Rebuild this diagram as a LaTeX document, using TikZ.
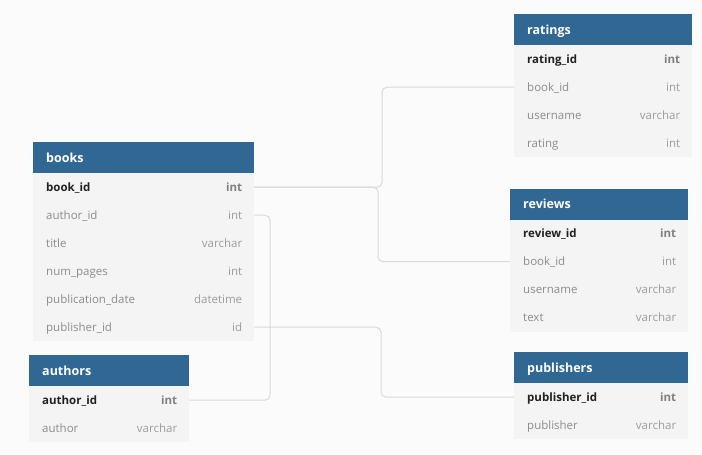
\documentclass[tikz,border=0pt]{standalone}
\usepackage{fontspec}
\setmainfont{Open Sans}
\definecolor{hdblue}{HTML}{316893}
\definecolor{bodygray}{HTML}{F4F4F4}
\definecolor{pagegray}{HTML}{FBFBFB}
\definecolor{linkgray}{HTML}{D9D9D9}
\definecolor{keytext}{HTML}{222222}
\definecolor{fieldtext}{HTML}{8C8C8C}
\definecolor{typetext}{HTML}{9C9C9C}
\tikzset{
    head/.style={fill=hdblue, text=white, font=\fontsize{12.5}{14}\selectfont\bfseries,
        anchor=north west, inner xsep=13pt, inner ysep=0pt, minimum height=31pt,
        text height=10.5pt, text depth=1.5pt, text width=#1-26pt, align=left},
    row/.style={fill=bodygray, text=fieldtext, font=\fontsize{11.5}{13}\selectfont,
        anchor=north west, inner xsep=13pt, inner ysep=0pt, minimum height=28pt,
        text height=10pt, text depth=1.5pt, text width=#1-26pt, align=left},
    keyrow/.style={row=#1, text=keytext, font=\fontsize{11.5}{13}\selectfont\bfseries},
    tp/.style={anchor=east, text=typetext, font=\fontsize{11.5}{13}\selectfont,
        inner xsep=12pt, inner ysep=0pt, text height=10pt, text depth=1.5pt},
    keytp/.style={tp, text=gray, font=\fontsize{11.5}{13}\selectfont\bfseries},
    link/.style={draw=linkgray, line width=1pt, rounded corners=5pt}
}
\begin{document}
\begin{tikzpicture}[x=1pt, y=-1pt]
\fill[pagegray] (0,0) rectangle (702,455);
\useasboundingbox (0,0) rectangle (702,455);

% books
\node[head=221pt] (books) at (33,142) {books};
\node[keyrow=221pt] (booksbookid) at (33,173) {book\_id};
\node[keytp] at (booksbookid.east) {int};
\foreach \n/\f/\t [count=\i] in {authorid/author\_id/int, title/title/varchar,
    numpages/num\_pages/int, pubdate/publication\_date/datetime,
    publisherid/publisher\_id/id}
{
    \node[row=221pt] (books\n) at (33,173+28*\i) {\f};
    \node[tp] at (books\n.east) {\t};
}

% authors
\node[head=160pt] (authors) at (29,355) {authors};
\node[keyrow=160pt] (authorsauthorid) at (29,386) {author\_id};
\node[keytp] at (authorsauthorid.east) {int};
\node[row=160pt] (authorsauthor) at (29,414) {author};
\node[tp] at (authorsauthor.east) {varchar};

% ratings
\node[head=178pt] (ratings) at (514,14) {ratings};
\node[keyrow=178pt] (ratingsratingid) at (514,45) {rating\_id};
\node[keytp] at (ratingsratingid.east) {int};
\foreach \n/\f/\t [count=\i] in {bookid/book\_id/int, username/username/varchar,
    rating/rating/int}
{
    \node[row=178pt] (ratings\n) at (514,45+28*\i) {\f};
    \node[tp] at (ratings\n.east) {\t};
}

% reviews
\node[head=178pt] (reviews) at (510,188.5) {reviews};
\node[keyrow=178pt] (reviewsreviewid) at (510,219.5) {review\_id};
\node[keytp] at (reviewsreviewid.east) {int};
\foreach \n/\f/\t [count=\i] in {bookid/book\_id/int, username/username/varchar,
    text/text/varchar}
{
    \node[row=178pt] (reviews\n) at (510,219.5+28*\i) {\f};
    \node[tp] at (reviews\n.east) {\t};
}

% publishers
\node[head=174pt] (publishers) at (514,352) {publishers};
\node[keyrow=174pt] (publisherspublisherid) at (514,383) {publisher\_id};
\node[keytp] at (publisherspublisherid.east) {int};
\node[row=174pt] (publisherspublisher) at (514,411) {publisher};
\node[tp] at (publisherspublisher.east) {varchar};

% links
\coordinate (trunkrt) at (382,0);
\coordinate (trunkrv) at (378,0);
\coordinate (trunkau) at (270,0);
\coordinate (trunkpb) at (381,0);
\draw[link] (booksbookid.east) -| (trunkrt |- ratingsbookid.west) -- (ratingsbookid.west);
\draw[link] (booksbookid.east) -| (trunkrv |- reviewsbookid.west) -- (reviewsbookid.west);
\draw[link] (booksauthorid.east) -| (trunkau |- authorsauthorid.east) -- (authorsauthorid.east);
\draw[link] (bookspublisherid.east) -| (trunkpb |- publisherspublisherid.west) -- (publisherspublisherid.west);
\end{tikzpicture}
\end{document}
